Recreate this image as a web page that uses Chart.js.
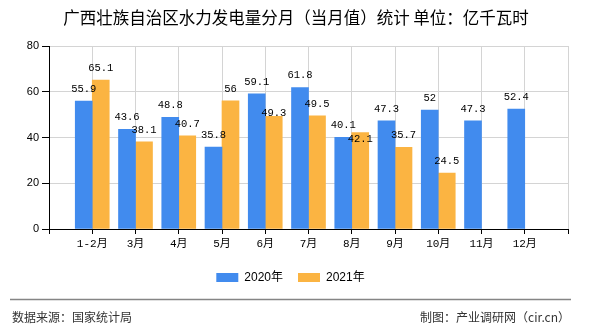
<!DOCTYPE html>
<html>
<head>
<meta charset="utf-8">
<script src="https://cdn.jsdelivr.net/npm/chart.js@4/dist/chart.umd.min.js"></script>
<style>
  html, body { margin: 0; padding: 0; background: #fff; }
  #wrap { width: 590px; height: 330px; position: relative; }
</style>
</head>
<body>
<div id="wrap"><canvas id="c" width="590" height="330"></canvas></div>
<script>
const titleText = '广西壮族自治区水力发电量分月（当月值）统计 单位：亿千瓦时';
const categories = ['1-2月','3月','4月','5月','6月','7月','8月','9月','10月','11月','12月'];
const seriesNames = ['2020年','2021年'];
const values2020 = [55.9, 43.6, 48.8, 35.8, 59.1, 61.8, 40.1, 47.3, 52, 47.3, 52.4];
const values2021 = [65.1, 38.1, 40.7, 56, 49.3, 49.5, 42.1, 35.7, 24.5, null, null];
const yMin = 0, yMax = 80, yStep = 20;
const sourceText = '数据来源：国家统计局';
const creditText = '制图：产业调研网（cir.cn）';

const blue = '#418bee';
const orange = '#fbb442';

function toPoints(arr) {
  const out = [];
  arr.forEach((v, i) => { if (v !== null && v !== undefined) out.push({x: i + 1, y: v}); });
  return out;
}

// per-label vertical nudges (label layout quirks of the original)
const labelNudge = {'1-4': 9, '1-6': 19};

const decorPlugin = {
  id: 'decor',
  afterDraw(chart) {
    const ctx = chart.ctx;
    ctx.save();
    // title
    ctx.fillStyle = '#000';
    ctx.font = '16.5px "Noto Sans CJK SC"';
    ctx.textAlign = 'center';
    ctx.textBaseline = 'middle';
    ctx.fillText(titleText, 296, 18);
    // footer line
    ctx.strokeStyle = '#858585';
    ctx.lineWidth = 1.5;
    ctx.beginPath();
    ctx.moveTo(10, 299.5);
    ctx.lineTo(571, 299.5);
    ctx.stroke();
    // footer texts
    ctx.fillStyle = '#333';
    ctx.font = '12px "Noto Sans CJK SC"';
    ctx.textAlign = 'left';
    ctx.fillText(sourceText, 12, 317);
    ctx.textAlign = 'right';
    ctx.fillText(creditText, 570, 317);
    ctx.restore();
  },
  afterDatasetsDraw(chart) {
    const ctx = chart.ctx;
    ctx.save();
    ctx.fillStyle = '#000';
    ctx.font = '10.5px "Liberation Mono", "DejaVu Sans Mono", monospace';
    ctx.textAlign = 'center';
    ctx.textBaseline = 'middle';
    chart.data.datasets.forEach((ds, di) => {
      const meta = chart.getDatasetMeta(di);
      meta.data.forEach((el, i) => {
        const v = ds.data[i].y;
        const nudge = labelNudge[di + '-' + i] || 0;
        ctx.fillText(String(v), el.x, el.y - 12 + nudge);
      });
    });
    ctx.restore();
  }
};

new Chart(document.getElementById('c'), {
  type: 'bar',
  data: {
    datasets: [
      { label: seriesNames[0], data: toPoints(values2020), backgroundColor: blue, borderWidth: 0, barThickness: 17, grouped: true },
      { label: seriesNames[1], data: toPoints(values2021), backgroundColor: orange, borderWidth: 0, barThickness: 17, grouped: true }
    ]
  },
  options: {
    responsive: false,
    animation: false,
    devicePixelRatio: 1,
    layout: { padding: { left: 13, right: 22, top: 46, bottom: 36.5 } },
    plugins: {
      title: { display: false },
      tooltip: { enabled: false },
      legend: {
        position: 'bottom',
        align: 'center',
        labels: {
          boxWidth: 22,
          boxHeight: 9,
          padding: 15,
          color: '#000',
          font: { family: '"Liberation Sans", "Noto Sans CJK SC"', size: 12 }
        }
      }
    },
    scales: {
      x: {
        type: 'linear',
        min: 0,
        max: categories.length + 1,
        offset: false,
        afterFit(scale) { scale.height = 27.5; },
        afterBuildTicks(scale) {
          const t = [];
          for (let i = 0; i <= categories.length + 1; i++) t.push({value: i});
          scale.ticks = t;
        },
        grid: { color: '#d4d4d4', tickColor: '#000', tickLength: 5, offset: false, drawOnChartArea: true },
        border: { color: '#000', width: 1 },
        ticks: {
          autoSkip: false,
          maxRotation: 0,
          minRotation: 0,
          padding: 3,
          color: '#000',
          font: { family: '"Liberation Mono", "Noto Sans CJK SC"', size: 11 },
          callback: (v) => categories[v - 1] || ''
        }
      },
      y: {
        min: yMin,
        max: yMax,
        afterFit(scale) { scale.width = 36; },
        grid: { color: '#d4d4d4', tickColor: '#000', tickLength: 7 },
        border: { color: '#000', width: 1 },
        ticks: {
          stepSize: yStep,
          padding: 3,
          color: '#000',
          font: { family: '"Liberation Sans"', size: 11 }
        }
      }
    }
  },
  plugins: [decorPlugin]
});
</script>
</body>
</html>
